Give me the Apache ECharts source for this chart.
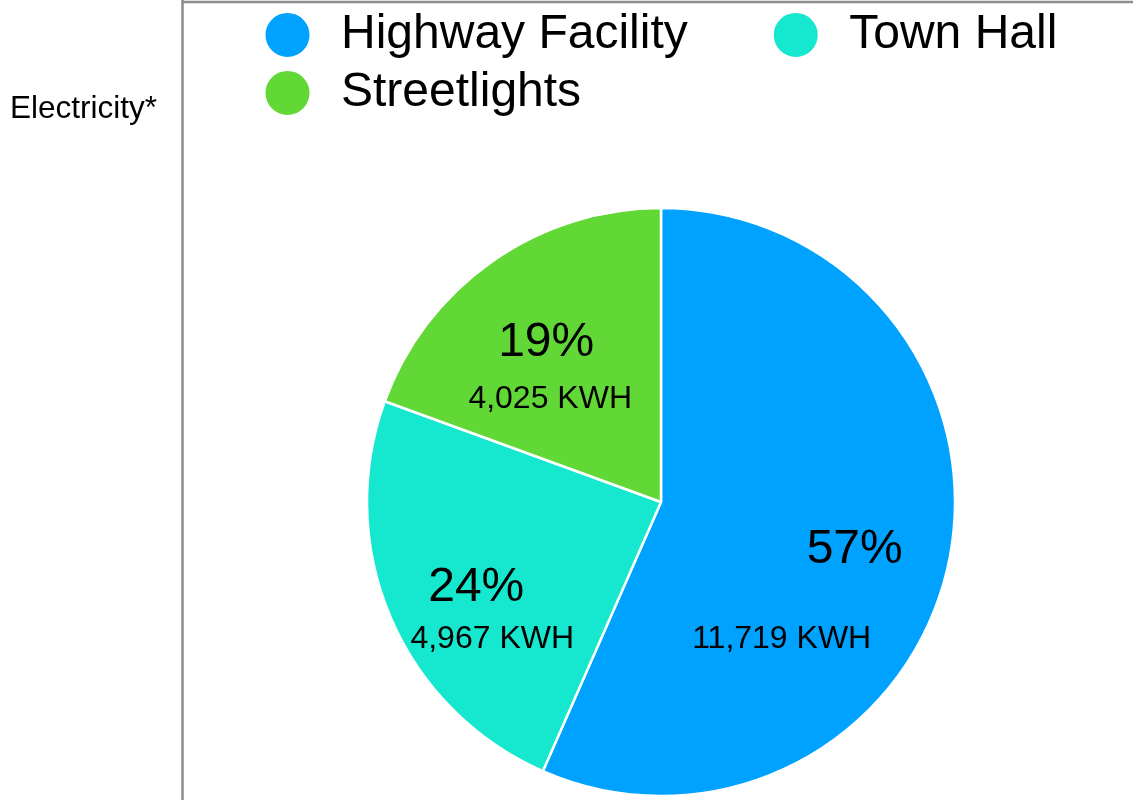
<!DOCTYPE html>
<html>
<head>
<meta charset="utf-8">
<script src="https://cdn.jsdelivr.net/npm/echarts@6/dist/echarts.min.js"></script>
<style>
html,body{margin:0;padding:0;background:#fff;}
#chart{width:1133px;height:800px;}
</style>
</head>
<body>
<div id="chart"></div>
<script>
const categories = ['Highway Facility', 'Town Hall', 'Streetlights'];
const values = [11719, 4967, 4025];
const colors = ['#00A2FF', '#16E7CF', '#61D836'];
const unit = 'KWH';
const sideLabel = 'Electricity*';

const FONT = '"Liberation Sans", Arial, Helvetica, sans-serif';
const pctLabelShift = [[-4, 6], [1, 6], [1, 6]];
const valueLabelShift = [[-77, 96], [17, 58], [5, 63]];

const pieData = categories.map((c, i) => ({ name: c, value: values[i], itemStyle: { color: colors[i] } }));

const chart = echarts.init(document.getElementById('chart'), null, { renderer: 'canvas' });
chart.setOption({
  animation: false,
  backgroundColor: '#fff',
  textStyle: { fontFamily: FONT },
  legend: [
    {
      data: categories.slice(0, 2),
      left: 263.5, top: 11, padding: 0,
      itemWidth: 97, itemHeight: 46, itemGap: 84,
      icon: 'circle', selectedMode: false,
      textStyle: { fontSize: 48, color: '#000', fontFamily: FONT }
    },
    {
      data: categories.slice(2),
      left: 263.5, top: 69, padding: 0,
      itemWidth: 97, itemHeight: 46,
      icon: 'circle', selectedMode: false,
      textStyle: { fontSize: 48, color: '#000', fontFamily: FONT }
    }
  ],
  graphic: [
    { type: 'line', shape: { x1: 182.5, y1: 0, x2: 182.5, y2: 800 }, style: { stroke: '#8c8c8c', lineWidth: 2.5 } },
    { type: 'line', shape: { x1: 182.5, y1: 2, x2: 1133, y2: 2 }, style: { stroke: '#8c8c8c', lineWidth: 2.5 } },
    { type: 'text', x: 10, y: 109, style: { text: sideLabel, font: '31.5px ' + FONT, fill: '#000', verticalAlign: 'middle' } }
  ],
  series: [
    {
      type: 'pie', center: [661, 502], radius: 294,
      startAngle: 90, clockwise: true, silent: true,
      avoidLabelOverlap: false,
      itemStyle: { borderColor: '#fff', borderWidth: 2.5 },
      label: { show: false }, labelLine: { show: false },
      emphasis: { disabled: true },
      data: pieData
    },
    {
      type: 'pie', center: [661, 502], radius: 398,
      startAngle: 90, clockwise: true, silent: true,
      avoidLabelOverlap: false, percentPrecision: 0,
      itemStyle: { color: 'rgba(0,0,0,0)', borderWidth: 0 },
      label: { show: true, position: 'inside', formatter: '{d}%', fontSize: 48, color: '#000', fontFamily: FONT },
      labelLine: { show: false },
      labelLayout: p => ({ dx: pctLabelShift[p.dataIndex][0], dy: pctLabelShift[p.dataIndex][1] }),
      emphasis: { disabled: true },
      data: categories.map((c, i) => ({ name: c, value: values[i] }))
    },
    {
      type: 'pie', center: [661, 502], radius: 398,
      startAngle: 90, clockwise: true, silent: true,
      avoidLabelOverlap: false,
      itemStyle: { color: 'rgba(0,0,0,0)', borderWidth: 0 },
      label: {
        show: true, position: 'inside', fontSize: 32, color: '#000', fontFamily: FONT,
        formatter: p => p.value.toLocaleString('en-US') + ' ' + unit
      },
      labelLine: { show: false },
      labelLayout: p => ({ dx: valueLabelShift[p.dataIndex][0], dy: valueLabelShift[p.dataIndex][1] }),
      emphasis: { disabled: true },
      data: categories.map((c, i) => ({ name: c, value: values[i] }))
    }
  ]
});
</script>
</body>
</html>
